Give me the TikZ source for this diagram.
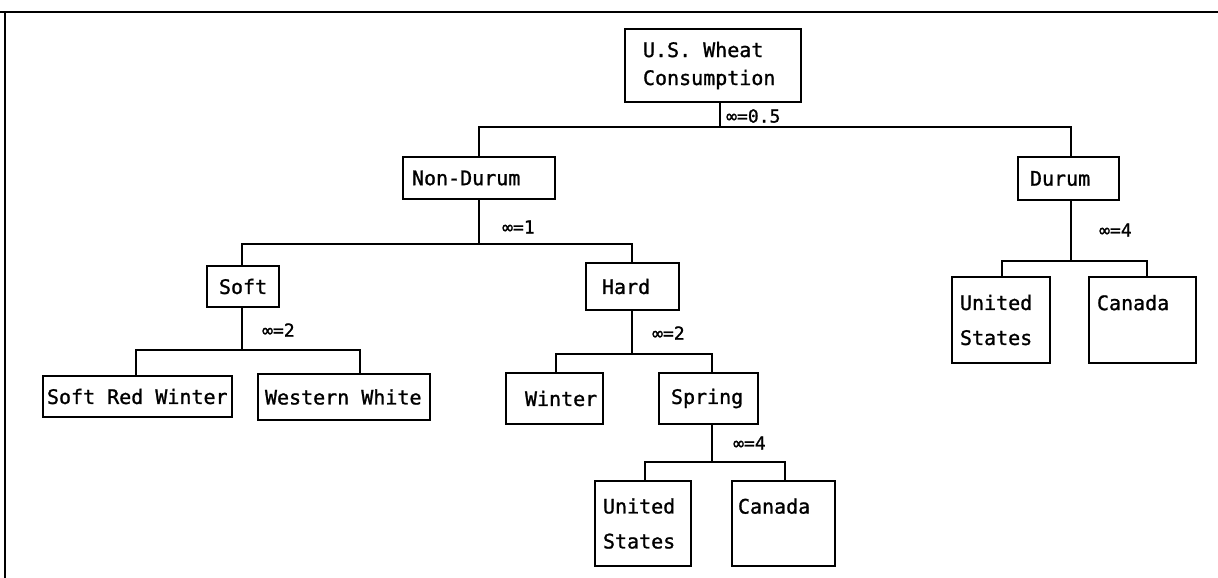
\documentclass[tikz,border=0pt]{standalone}
\usepackage{fontspec}
\newfontfamily\dmono[FakeBold=1.2]{DejaVu Sans Mono}
\newcommand\msp{\hspace{0.602em}}
\begin{document}
\begin{tikzpicture}[x=1pt,y=-1pt,
  box/.style={draw, line width=1.9pt, inner ysep=0pt, align=left,
    font=\dmono\fontsize{20}{28}\selectfont},
  tall/.style={font=\dmono\fontsize{20}{35}\selectfont},
  conn/.style={line width=1.9pt},
  frame/.style={line width=2.8pt},
  lab/.style={anchor=west, inner sep=0pt, font=\dmono\fontsize{18}{20}\selectfont}]
\useasboundingbox (0,0) rectangle (1218,578);
% frame
\coordinate (fl) at (0,12);
\coordinate (fr) at (1218,12);
\coordinate (fb) at (5,578);
\draw[frame] (fl) -- (fr);
\draw[frame] (fl -| fb) -- (fb);
% boxes
\node[box, inner xsep=18pt, text width=140pt, minimum height=73pt] (top) at (713,65.5) {U.S.\msp Wheat\\Consumption};
\node[box, inner xsep=9pt, text width=134pt, minimum height=42pt] (nd) at (479,178) {Non-Durum};
\node[box, inner xsep=12pt, text width=77pt, minimum height=43pt] (du) at (1068.5,178.5) {Durum};
\node[box, inner xsep=12pt, text width=48pt, minimum height=41pt] (soft) at (243,286.5) {Soft};
\node[box, inner xsep=16pt, text width=61pt, minimum height=47pt] (hard) at (632.5,286.5) {Hard};
\node[box, inner xsep=4pt, text width=181pt, minimum height=41pt] (srw) at (137.5,396.5) {Soft\msp Red\msp Winter};
\node[box, inner xsep=7pt, text width=158pt, minimum height=46pt] (ww) at (344,397) {Western\msp White};
\node[box, inner xsep=19pt, text width=59pt, minimum height=51pt] (win) at (554.5,398.5) {Winter};
\node[box, inner xsep=12pt, text width=75pt, minimum height=51pt] (spr) at (708.5,398.5) {Spring};
\node[box, tall, inner xsep=8pt, text width=80pt, minimum height=85pt] (us1) at (643,523.5) {United\\States};
\node[box, tall, inner xsep=6pt, text width=91pt, minimum height=85pt] (ca1) at (783.5,523.5) {Canada\\\mbox{}};
\node[box, tall, inner xsep=8pt, text width=82pt, minimum height=86pt] (us2) at (1001,320) {United\\States};
\node[box, tall, inner xsep=8pt, text width=91pt, minimum height=86pt] (ca2) at (1142.5,320) {Canada\\\mbox{}};
% junctions
\coordinate (j1) at (720,127);
\coordinate (j2) at (479,244);
\coordinate (j3) at (242,350);
\coordinate (j4) at (632,354);
\coordinate (j5) at (712,462);
\coordinate (j6) at (1071,261);
% connectors
\draw[conn] (top.south -| j1) -- (j1);
\draw[conn] (nd.north -| 479,0) |- (j1) -| (du.north -| 1071,0);
\draw[conn] (nd.south -| j2) -- (j2);
\draw[conn] (soft.north -| 242,0) |- (j2) -| (hard.north -| 632,0);
\draw[conn] (soft.south -| j3) -- (j3);
\draw[conn] (srw.north -| 136,0) |- (j3) -| (ww.north -| 360,0);
\draw[conn] (hard.south -| j4) -- (j4);
\draw[conn] (win.north -| 556,0) |- (j4) -| (spr.north -| 712,0);
\draw[conn] (spr.south -| j5) -- (j5);
\draw[conn] (us1.north -| 645,0) |- (j5) -| (ca1.north -| 785,0);
\draw[conn] (du.south -| j6) -- (j6);
\draw[conn] (us2.north -| 1002,0) |- (j6) -| (ca2.north -| 1147,0);
% labels
\node[lab] (l1) at (726,116) {∞=0.5};
\node[lab] (l2) at (502,227) {∞=1};
\node[lab] (l3) at (262,330) {∞=2};
\node[lab] (l4) at (652,333) {∞=2};
\node[lab] (l5) at (733,443) {∞=4};
\node[lab] (l6) at (1099,230) {∞=4};
\end{tikzpicture}
\end{document}
